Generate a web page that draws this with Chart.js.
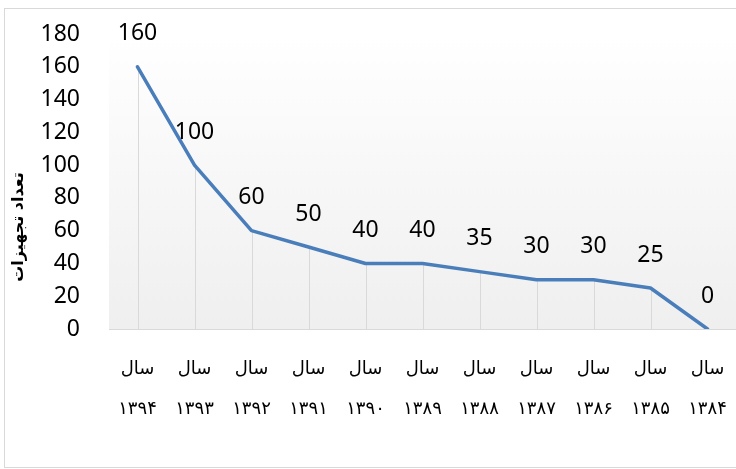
<!DOCTYPE html>
<html>
<head>
<meta charset="utf-8">
<script src="https://cdn.jsdelivr.net/npm/chart.js@4.4.1/dist/chart.umd.min.js"></script>
<style>
  html, body { margin: 0; padding: 0; background: #fff; }
  #wrap { position: relative; width: 736px; height: 469px; overflow: hidden; }
  #frame { position: absolute; left: 4px; top: 8px; width: 760px; height: 460px; border: 1px solid #d9d9d9; box-sizing: border-box; }
  canvas { position: absolute; left: 0; top: 0; }
</style>
</head>
<body>
<div id="wrap">
  <div id="frame"></div>
  <canvas id="c" width="736" height="469"></canvas>
</div>
<script>
const categories = [
  ['سال', '۱۳۹۴'], ['سال', '۱۳۹۳'], ['سال', '۱۳۹۲'], ['سال', '۱۳۹۱'],
  ['سال', '۱۳۹۰'], ['سال', '۱۳۸۹'], ['سال', '۱۳۸۸'], ['سال', '۱۳۸۷'],
  ['سال', '۱۳۸۶'], ['سال', '۱۳۸۵'], ['سال', '۱۳۸۴']
];
const equipmentCount = [160, 100, 60, 50, 40, 40, 35, 30, 30, 25, 0];
const yAxisTitle = 'تعداد تجهیزات';
const yMin = 0, yMax = 180, yStep = 20;

const FONT = "'Noto Sans', 'DejaVu Sans', sans-serif";

const bgPlugin = {
  id: 'bgPlugin',
  beforeDraw(chart) {
    const { ctx, chartArea: a } = chart;
    const g = ctx.createLinearGradient(0, a.top, 0, a.bottom);
    g.addColorStop(0, '#ffffff');
    g.addColorStop(1, '#efefef');
    ctx.save();
    ctx.fillStyle = g;
    ctx.fillRect(a.left, a.top, a.right - a.left, a.bottom - a.top);
    ctx.restore();
  }
};

const dropLines = {
  id: 'dropLines',
  beforeDatasetsDraw(chart) {
    const { ctx, chartArea: a } = chart;
    const meta = chart.getDatasetMeta(0);
    ctx.save();
    ctx.strokeStyle = '#d9d9d9';
    ctx.lineWidth = 1;
    meta.data.forEach(p => {
      const x = Math.round(p.x) + 0.5;
      ctx.beginPath();
      ctx.moveTo(x, p.y);
      ctx.lineTo(x, a.bottom);
      ctx.stroke();
    });
    ctx.restore();
  }
};

const dataLabels = {
  id: 'dataLabels',
  afterDatasetsDraw(chart) {
    const { ctx } = chart;
    const meta = chart.getDatasetMeta(0);
    const ds = chart.data.datasets[0].data;
    ctx.save();
    ctx.fillStyle = '#000';
    ctx.font = "23px " + FONT;
    ctx.textAlign = 'center';
    ctx.textBaseline = 'middle';
    meta.data.forEach((p, i) => {
      ctx.fillText(String(ds[i]), p.x, p.y - 33);
    });
    ctx.restore();
  }
};

const yTitle = {
  id: 'yTitle',
  afterDraw(chart) {
    const { ctx } = chart;
    ctx.save();
    ctx.translate(19, 227);
    ctx.rotate(-Math.PI / 2);
    ctx.fillStyle = '#000';
    ctx.font = "bold 16px 'DejaVu Sans', sans-serif";
    ctx.textAlign = 'center';
    ctx.textBaseline = 'middle';
    ctx.fillText(yAxisTitle, 0, 0);
    ctx.restore();
  }
};

new Chart(document.getElementById('c'), {
  type: 'line',
  data: {
    labels: categories,
    datasets: [{
      data: equipmentCount,
      borderColor: '#4a7ebb',
      borderWidth: 3.5,
      borderCapStyle: 'round',
      borderJoinStyle: 'round',
      tension: 0,
      pointRadius: 0,
      pointHoverRadius: 0,
      fill: false
    }]
  },
  options: {
    responsive: false,
    animation: false,
    devicePixelRatio: 1,
    layout: { padding: { top: 34, right: 0, left: 0, bottom: 0 } },
    plugins: { legend: { display: false }, tooltip: { enabled: false } },
    scales: {
      x: {
        offset: true,
        grid: { display: false, drawTicks: false },
        border: { display: true, color: '#d9d9d9', width: 1 },
        ticks: {
          color: '#000',
          font: { family: "'DejaVu Sans', sans-serif", size: 18, lineHeight: 2.22 },
          padding: 20,
          maxRotation: 0,
          autoSkip: false
        },
        afterFit(scale) { scale.height = 140; scale.paddingLeft = 0; scale.paddingRight = 0; }
      },
      y: {
        min: yMin, max: yMax,
        grid: { display: false, drawTicks: false },
        border: { display: false },
        ticks: {
          stepSize: yStep,
          color: '#000',
          font: { family: FONT, size: 23 },
          padding: 29
        },
        afterFit(scale) { scale.width = 109; scale.paddingTop = 0; scale.paddingBottom = 0; }
      }
    }
  },
  plugins: [bgPlugin, dropLines, dataLabels, yTitle]
});
</script>
</body>
</html>
